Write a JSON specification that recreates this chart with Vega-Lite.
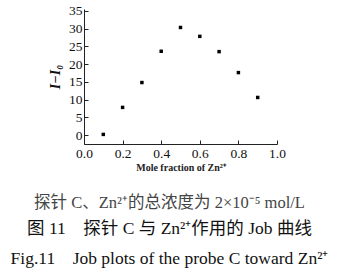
{
  "$schema": "https://vega.github.io/schema/vega-lite/v6.json",
  "width": 193,
  "height": 135,
  "autosize": "none",
  "padding": {"left": 84, "top": 9, "right": 64, "bottom": 129},
  "background": "white",
  "data": {"values": [
    {"x": 0.1, "y": 0.2},
    {"x": 0.2, "y": 7.8},
    {"x": 0.3, "y": 14.8},
    {"x": 0.4, "y": 23.6},
    {"x": 0.5, "y": 30.3},
    {"x": 0.6, "y": 27.8},
    {"x": 0.7, "y": 23.5},
    {"x": 0.8, "y": 17.6},
    {"x": 0.9, "y": 10.6}
  ]},
  "title": {
    "text": "探针 C、Zn²⁺的总浓度为 2×10⁻⁵ mol/L",
    "subtitle": ["图 11　探针 C 与 Zn²⁺作用的 Job 曲线", "Fig.11　Job plots of the probe C toward Zn²⁺"],
    "orient": "bottom",
    "anchor": "middle",
    "dx": -11,
    "offset": 22,
    "font": "Liberation Serif, Noto Sans CJK SC",
    "fontSize": 16.5,
    "fontWeight": "normal",
    "color": "#444444",
    "subtitleFont": "Liberation Serif, Noto Sans CJK SC",
    "subtitleFontSize": 17.5,
    "subtitleColor": "#111111",
    "subtitlePadding": 9,
    "subtitleLineHeight": 30
  },
  "mark": {"type": "square", "size": 12, "color": "black", "opacity": 1},
  "encoding": {
    "x": {
      "field": "x", "type": "quantitative",
      "scale": {"domain": [0, 1], "nice": false, "zero": false},
      "axis": {
        "title": "Mole fraction of Zn²⁺",
        "values": [0, 0.2, 0.4, 0.6, 0.8, 1.0],
        "format": ".1f",
        "labelFlush": false,
        "titleFont": "Liberation Serif",
        "titleFontWeight": "bold",
        "titleFontSize": 10,
        "titleColor": "#222",
        "titlePadding": 3
      }
    },
    "y": {
      "field": "y", "type": "quantitative",
      "scale": {"domain": [-2.5, 35.5], "nice": false, "zero": false},
      "axis": {
        "title": "I−I₀",
        "values": [0, 5, 10, 15, 20, 25, 30, 35],
        "labelFlush": false,
        "titleFont": "Liberation Serif",
        "titleFontStyle": "italic",
        "titleFontWeight": "bold",
        "titleFontSize": 14,
        "titleColor": "#111",
        "titlePadding": 6
      }
    }
  },
  "config": {
    "view": {"stroke": null},
    "axis": {
      "grid": false,
      "domainColor": "#222",
      "tickColor": "#222",
      "tickSize": -4,
      "labelPadding": 6,
      "labelFont": "Liberation Serif",
      "labelFontSize": 13.5,
      "labelColor": "#111"
    }
  }
}
